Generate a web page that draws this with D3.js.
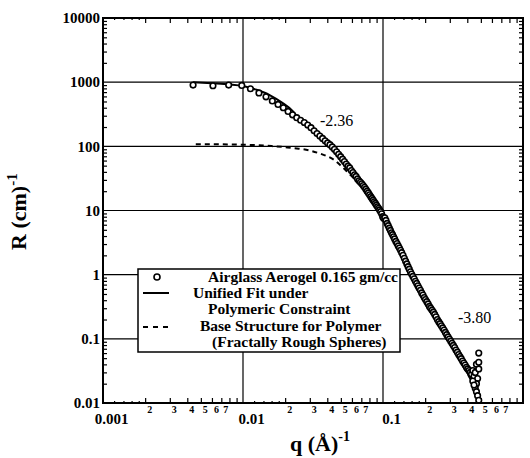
<!DOCTYPE html>
<html>
<head>
<meta charset="utf-8">
<script src="https://cdn.jsdelivr.net/npm/d3@7"></script>
<style>
  body { margin: 0; background: #fff; }
  svg { display: block; font-family: "Liberation Serif", "DejaVu Serif", serif; }
  .axis path { display: none; }
  .axis line { stroke: #000; stroke-width: 1.2; }
</style>
</head>
<body>
<div id="chart"></div>
<script>
// tick labels
const xMajorTicks = [0.001, 0.01, 0.1];
const xMajorLabels = ["0.001", "0.01", "0.1"];
const xMinorLabels = ["2", "3", "4", "5", "6", "7"];
const yMajorTicks = [0.01, 0.1, 1, 10, 100, 1000, 10000];
const yMajorLabels = ["0.01", "0.1", "1", "10", "100", "1000", "10000"];

// unified fit (solid)
const fitQ = [0.0044, 0.006, 0.008, 0.01, 0.0125, 0.0155, 0.019, 0.0225, 0.0256, 0.03, 0.0355, 0.043, 0.05, 0.058,
  0.065, 0.074, 0.085, 0.095, 0.105, 0.112, 0.122, 0.132, 0.145, 0.161, 0.18, 0.2, 0.225, 0.25, 0.29, 0.33, 0.37,
  0.41, 0.44, 0.47];
const fitR = [1000, 960, 920, 870, 760, 630, 480, 360, 260, 205, 150, 100, 70, 46,
  33, 24, 15, 10.5, 7.2, 5.2, 3.6, 2.6, 1.6, 1.0, 0.65, 0.43, 0.27, 0.18, 0.1, 0.062, 0.04,
  0.027, 0.021, 0.016];

// base structure (dashed)
const baseQ = [0.0046, 0.006, 0.008, 0.01, 0.013, 0.016, 0.02, 0.025, 0.03, 0.035, 0.04, 0.045, 0.05, 0.055, 0.06,
  0.065, 0.07, 0.074, 0.085, 0.095, 0.105, 0.122, 0.145, 0.161, 0.2, 0.25, 0.29, 0.37, 0.47];
const baseR = [108, 108, 107, 106, 104, 101, 97, 92, 86, 78, 70, 61, 50, 41, 34,
  29, 25, 22.5, 14.5, 10, 7, 3.5, 1.55, 0.98, 0.42, 0.175, 0.098, 0.039, 0.0155];

// Airglass aerogel 0.165 gm/cc data
const dataQ = [0.0044, 0.0061, 0.0079, 0.0098, 0.0113, 0.0130, 0.0146, 0.0162, 0.0178, 0.0194, 0.0210, 0.0226,
  0.0242, 0.0258, 0.0274, 0.0290, 0.0306, 0.0322, 0.0338, 0.0354, 0.0370, 0.0386, 0.0402, 0.0418, 0.0434, 0.0450,
  0.0466, 0.0482, 0.0498, 0.0514, 0.0530, 0.0546, 0.0562, 0.0578, 0.0594, 0.0610, 0.0626, 0.0642, 0.0658, 0.0674,
  0.0690, 0.0706, 0.0722, 0.0738, 0.0754, 0.0770, 0.0786, 0.0802, 0.0818, 0.0834, 0.0850, 0.0866, 0.0882, 0.0898,
  0.0914, 0.0930, 0.0946, 0.0962, 0.0978, 0.0994, 0.1010, 0.1030, 0.1050, 0.1070, 0.1090, 0.1110, 0.1130, 0.1150,
  0.1170, 0.1190, 0.1210, 0.1235, 0.1260, 0.1285, 0.1310, 0.1335, 0.1360, 0.1390, 0.1420, 0.1450, 0.1480, 0.1510,
  0.1540, 0.1570, 0.1600, 0.1635, 0.1670, 0.1705, 0.1740, 0.1775, 0.1810, 0.1850, 0.1890, 0.1930, 0.1970, 0.2010,
  0.2055, 0.2100, 0.2145, 0.2190, 0.2240, 0.2290, 0.2340, 0.2390, 0.2445, 0.2500, 0.2555, 0.2610, 0.2670, 0.2730,
  0.2790, 0.2850, 0.2915, 0.2980, 0.3045, 0.3110, 0.3180, 0.3250, 0.3320, 0.3395, 0.3470, 0.3545, 0.3620, 0.3700,
  0.3780, 0.3860, 0.3945, 0.4030, 0.4115, 0.4200, 0.4290, 0.4380, 0.4470, 0.4560, 0.4650, 0.4740, 0.4830, 0.4830,
  0.4830, 0.4650, 0.4560, 0.4650, 0.4740, 0.4830, 0.4380, 0.4470];
const dataR = [900, 880, 900, 890, 790, 680, 590, 510, 450, 400, 350, 310,
  280, 255, 235, 215, 195, 175, 158, 145, 133, 122, 113, 106, 98, 90,
  82, 75, 69, 63, 58, 53, 49, 46, 42, 39, 36, 34, 31, 29,
  27.5, 26, 24.5, 23, 21.5, 20, 18.8, 17.6, 16.4, 15.4, 14.5, 13.7, 12.9, 12.1,
  11.4, 10.8, 10.2, 9.6, 8.9, 8.0, 7.6, 7.7, 7.0, 6.3, 5.8, 5.3, 4.9, 4.5,
  4.2, 3.9, 3.6, 3.3, 3.05, 2.8, 2.6, 2.4, 2.2, 2.0, 1.8, 1.62, 1.47, 1.33,
  1.22, 1.11, 1.02, 0.94, 0.86, 0.79, 0.73, 0.67, 0.62, 0.57, 0.52, 0.48, 0.44, 0.41,
  0.38, 0.35, 0.32, 0.30, 0.28, 0.26, 0.24, 0.22, 0.20, 0.185, 0.172, 0.160, 0.148, 0.137,
  0.126, 0.116, 0.107, 0.099, 0.092, 0.085, 0.079, 0.073, 0.067, 0.062, 0.057, 0.053, 0.049, 0.045,
  0.042, 0.039, 0.036, 0.034, 0.032, 0.030, 0.028, 0.032, 0.026, 0.030, 0.040, 0.024, 0.034, 0.043,
  0.060, 0.020, 0.017, 0.015, 0.013, 0.011, 0.022, 0.019];

const width = 530, height = 458;
const margin = { top: 18, right: 7, bottom: 55, left: 103 };

const svg = d3.select("#chart").append("svg")
  .attr("width", width)
  .attr("height", height);

const x = d3.scaleLog().domain([0.001, 1]).range([margin.left, width - margin.right]);
const y = d3.scaleLog().domain([0.01, 10000]).range([height - margin.bottom, margin.top]);

const x0 = x.range()[0], x1 = x.range()[1];
const y0 = y.range()[0], y1 = y.range()[1];

// minor tick positions per decade
const decadesX = [0.001, 0.01, 0.1];
const decadesY = [0.01, 0.1, 1, 10, 100, 1000];
const xMinor = decadesX.flatMap(d => [2, 3, 4, 5, 6, 7, 8, 9].map(m => d * m));
const xTiny = decadesX.flatMap(d => [1.2, 1.4, 1.6, 1.8].map(m => d * m));
const yMinor = decadesY.flatMap(d => [2, 3, 4, 5, 6, 7, 8, 9].map(m => d * m));

// grid
svg.append("g").selectAll("line")
  .data(yMajorTicks.slice(1, -1))
  .join("line")
  .attr("x1", x0).attr("x2", x1)
  .attr("y1", d => y(d)).attr("y2", d => y(d))
  .attr("stroke", "#000").attr("stroke-width", 1.2);

svg.append("g").selectAll("line")
  .data([0.01, 0.1])
  .join("line")
  .attr("x1", d => x(d)).attr("x2", d => x(d))
  .attr("y1", y0).attr("y2", y1)
  .attr("stroke", "#000").attr("stroke-width", 1.2);

// axes ticks (inward)
const bottomMinor = svg.append("g").attr("class", "axis")
  .attr("transform", `translate(0,${y0})`)
  .call(d3.axisBottom(x).tickValues(xMinor).tickSize(-5)
    .tickFormat(d => {
      const m = Math.round(d / Math.pow(10, Math.floor(Math.log10(d) + 1e-9)));
      return m <= 7 ? xMinorLabels[m - 2] : "";
    }));
bottomMinor.selectAll("text")
  .attr("font-size", 10).attr("font-weight", "bold")
  .attr("x", 4).attr("y", 3).attr("dy", "0.71em")
  .attr("font-family", "Liberation Serif, serif");

svg.append("g").attr("class", "axis")
  .attr("transform", `translate(0,${y0})`)
  .call(d3.axisBottom(x).tickValues(xTiny).tickSize(-2).tickFormat(""));

const bottomMajor = svg.append("g").attr("class", "axis")
  .attr("transform", `translate(0,${y0})`)
  .call(d3.axisBottom(x).tickValues(xMajorTicks).tickSize(0).tickPadding(10)
    .tickFormat((d, i) => xMajorLabels[i]));
bottomMajor.selectAll("text")
  .attr("font-size", 15).attr("font-weight", "bold")
  .attr("dx", 8)
  .attr("font-family", "Liberation Serif, serif");

svg.append("g").attr("class", "axis")
  .attr("transform", `translate(0,${y1})`)
  .call(d3.axisTop(x).tickValues(xMinor).tickSize(-5).tickFormat(""));
svg.append("g").attr("class", "axis")
  .attr("transform", `translate(0,${y1})`)
  .call(d3.axisTop(x).tickValues(xTiny).tickSize(-2).tickFormat(""));

const leftMajor = svg.append("g").attr("class", "axis")
  .attr("transform", `translate(${x0},0)`)
  .call(d3.axisLeft(y).tickValues(yMajorTicks).tickSize(0).tickPadding(3)
    .tickFormat((d, i) => yMajorLabels[i]));
leftMajor.selectAll("text")
  .attr("font-size", 15).attr("font-weight", "bold")
  .attr("font-family", "Liberation Serif, serif");

svg.append("g").attr("class", "axis")
  .attr("transform", `translate(${x0},0)`)
  .call(d3.axisLeft(y).tickValues(yMinor).tickSize(-4).tickFormat(""));
svg.append("g").attr("class", "axis")
  .attr("transform", `translate(${x1},0)`)
  .call(d3.axisRight(y).tickValues(yMinor).tickSize(-4).tickFormat(""));

// legend box (under data)
const lg = svg.append("g");
lg.append("rect")
  .attr("x", 138).attr("y", 269).attr("width", 262).attr("height", 83)
  .attr("fill", "#fff").attr("stroke", "#000").attr("stroke-width", 1.5);
lg.append("circle").attr("cx", 157).attr("cy", 277).attr("r", 3)
  .attr("fill", "#fff").attr("stroke", "#000").attr("stroke-width", 1.6);
lg.append("line").attr("x1", 143).attr("x2", 169).attr("y1", 293).attr("y2", 293)
  .attr("stroke", "#000").attr("stroke-width", 2);
lg.append("line").attr("x1", 143).attr("x2", 169).attr("y1", 327).attr("y2", 327)
  .attr("stroke", "#000").attr("stroke-width", 2).attr("stroke-dasharray", "5,5");
const legendText = [
  ["Airglass Aerogel 0.165 gm/cc", 208, 282],
  ["Unified Fit under", 193, 298],
  ["Polymeric Constraint", 208, 314],
  ["Base Structure for Polymer", 200, 331],
  ["(Fractally Rough Spheres)", 212, 347]
];
lg.selectAll("text").data(legendText).join("text")
  .attr("x", d => d[1]).attr("y", d => d[2])
  .attr("font-size", 15.5).attr("font-weight", "bold")
  .text(d => d[0]);

// curves
const fit = fitQ.map((q, i) => [q, fitR[i]]);
const base = baseQ.map((q, i) => [q, baseR[i]]);
const line = d3.line().x(d => x(d[0])).y(d => y(d[1])).curve(d3.curveMonotoneX);

svg.append("path").datum(base)
  .attr("d", line).attr("fill", "none")
  .attr("stroke", "#000").attr("stroke-width", 2).attr("stroke-dasharray", "5,4");

svg.append("path").datum(fit)
  .attr("d", line).attr("fill", "none")
  .attr("stroke", "#000").attr("stroke-width", 2);

// data points
svg.append("g").selectAll("circle")
  .data(dataQ.map((q, i) => [q, dataR[i]]))
  .join("circle")
  .attr("cx", d => x(d[0])).attr("cy", d => y(d[1]))
  .attr("r", 2.8)
  .attr("fill", "#fff").attr("stroke", "#000").attr("stroke-width", 1.6);

// frame
svg.append("rect")
  .attr("x", x0).attr("y", y1).attr("width", x1 - x0).attr("height", y0 - y1)
  .attr("fill", "none").attr("stroke", "#000").attr("stroke-width", 2);

// slope annotations
svg.append("text").attr("x", 320).attr("y", 126).attr("font-size", 16).text("-2.36");
svg.append("text").attr("x", 458).attr("y", 323).attr("font-size", 16).text("-3.80");

// axis titles
svg.append("text")
  .attr("x", 290).attr("y", 451)
  .attr("font-size", 22).attr("font-weight", "bold")
  .text("q (Å)")
  .append("tspan").attr("font-size", 14).attr("dy", -10).text("-1");

svg.append("text")
  .attr("transform", "translate(26,250) rotate(-90)")
  .attr("font-size", 22).attr("font-weight", "bold")
  .text("R  (cm)")
  .append("tspan").attr("font-size", 15).attr("dy", -9).text("-1");
</script>
</body>
</html>
